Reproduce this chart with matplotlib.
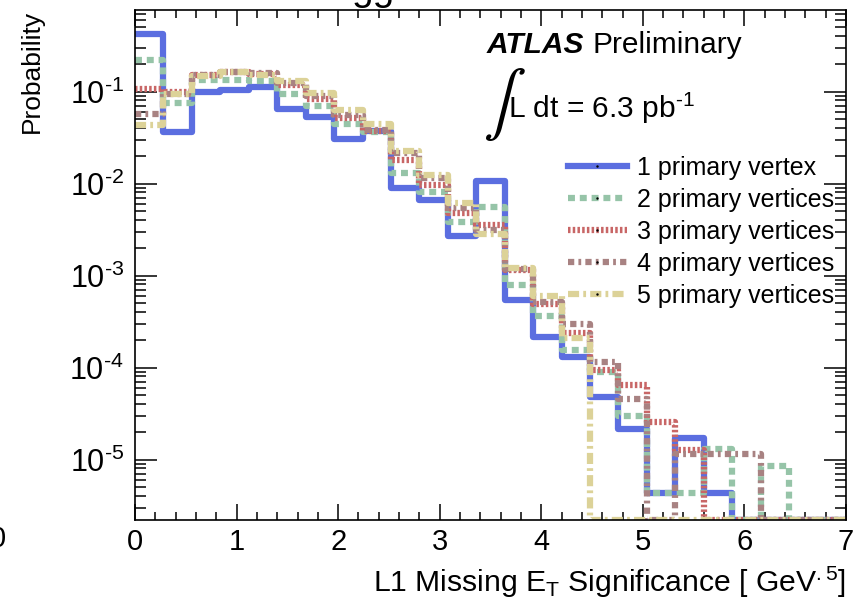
import numpy as np
import matplotlib
matplotlib.use('Agg')
import matplotlib.pyplot as plt
from matplotlib.lines import Line2D
from matplotlib.ticker import (LogLocator, MultipleLocator, NullFormatter,
                               FixedLocator, FuncFormatter)

plt.rcParams['font.family'] = ['Liberation Sans', 'DejaVu Sans']
plt.rcParams['mathtext.fontset'] = 'custom'
plt.rcParams['mathtext.rm'] = 'Liberation Sans'
plt.rcParams['mathtext.it'] = 'Liberation Sans:italic'
plt.rcParams['mathtext.bf'] = 'Liberation Sans:bold'
plt.rcParams['lines.scale_dashes'] = False

# 25 bins of L1 MET significance, 0..7
edges = np.linspace(0, 7, 26)

pv1 = [0.42, 0.036, 0.098, 0.103, 0.111, 0.065, 0.053, 0.0305, 0.037, 0.0089,
       0.0067, 0.0027, 0.0106, 5.4e-4, 2.16e-4, 1.3e-4, 4.8e-5, 2.17e-5, 4.3e-6,
       1.72e-5, 4.3e-6, 0, 0, 0, 0]
pv2 = [0.223, 0.075, 0.135, 0.135, 0.13, 0.093, 0.069, 0.044, 0.036, 0.013,
       0.008, 0.0038, 0.0056, 7.9e-4, 3.66e-4, 1.55e-4, 9.0e-5, 3.0e-5, 4.3e-6,
       4.3e-6, 1.29e-5, 0, 8.6e-6, 0, 0]
pv3 = [0.107, 0.098, 0.153, 0.162, 0.156, 0.119, 0.082, 0.051, 0.037, 0.0182,
       0.0097, 0.0048, 0.0035, 1.15e-3, 4.9e-4, 2.4e-4, 9.4e-5, 6.4e-5, 2.56e-5,
       1.26e-5, 0, 0, 0, 0, 0]
pv4 = [0.0576, 0.095, 0.15, 0.163, 0.158, 0.124, 0.09, 0.056, 0.038, 0.0215,
       0.0115, 0.0054, 0.0031, 1.17e-3, 5.2e-4, 3.0e-4, 1.15e-4, 4.6e-5, 0,
       1.16e-5, 1.16e-5, 1.16e-5, 0, 0, 0]
pv5 = [0.0437, 0.093, 0.147, 0.164, 0.153, 0.13, 0.097, 0.0636, 0.044, 0.0224,
       0.0125, 0.0061, 0.0028, 1.2e-3, 6.0e-4, 2.1e-4, 0, 0, 0, 0, 0, 0, 0, 0, 0]

labels = ['1 primary vertex', '2 primary vertices', '3 primary vertices',
          '4 primary vertices', '5 primary vertices']
colors = ['#5b6ee0', '#96c4a8', '#c86666', '#a88282', '#dcd298']
dashes = [None, (5, 3.5), (1.8, 1.6), (4.5, 3, 2, 3), (8, 3, 2, 3)]

ymin, ymax = 2.2e-6, 0.77

fig = plt.figure(figsize=(8.63, 6.11), dpi=100)
ax = fig.add_axes([135 / 863, 1 - 520 / 611, 711 / 863, 510 / 611])

handles = []
for vals, col, dsh, lab in zip([pv1, pv2, pv3, pv4, pv5], colors, dashes, labels):
    v = np.array(vals, dtype=float)
    v = np.where(v > 0, v, ymin)  # empty bins sit on the frame
    y = np.append(v, v[-1])
    ln, = ax.step(edges, y, where='post', color=col, lw=4.5,
                  solid_capstyle='butt', dash_capstyle='butt')
    if dsh is not None:
        ln.set_dashes(dsh)
    h = Line2D([], [], color=col, lw=4.5, dash_capstyle='butt',
               marker='.', markersize=1.5, markerfacecolor='k', markeredgecolor='k')
    if dsh is not None:
        h.set_dashes(dsh)
    handles.append(h)

ax.set_yscale('log')
ax.set_xlim(0, 7)
ax.set_ylim(ymin, ymax)


def pow10(val, pos):
    e = int(round(np.log10(val)))
    return r'$\mathregular{10^{\text{-}%d}}$' % (-e)


ax.xaxis.set_major_locator(MultipleLocator(1))
ax.xaxis.set_minor_locator(MultipleLocator(0.2))
ax.yaxis.set_major_locator(FixedLocator([1e-5, 1e-4, 1e-3, 1e-2, 1e-1]))
ax.yaxis.set_major_formatter(FuncFormatter(pow10))
ax.yaxis.set_minor_locator(LogLocator(base=10, subs=np.arange(2, 10), numticks=20))
ax.yaxis.set_minor_formatter(NullFormatter())

ax.tick_params(which='both', direction='in', top=True, right=True, width=1.1,
               labelsize=21)
ax.tick_params(axis='x', which='major', length=11.5, pad=6)
ax.tick_params(axis='x', which='minor', length=5.8)
ax.tick_params(axis='y', which='major', length=16, pad=8, labelsize=22)
ax.tick_params(axis='y', which='minor', length=8)
for sp in ax.spines.values():
    sp.set_linewidth(1.2)

ax.set_ylabel('Probability', loc='top', fontsize=19, labelpad=18)
ax.set_xlabel(r'L1 Missing E$_{\mathregular{T}}$ Significance [ GeV$^{\mathregular{.5}}$]',
              loc='right', fontsize=21.7, labelpad=6)

leg = ax.legend(handles, labels, loc='upper left', bbox_to_anchor=(0.609, 0.714),
                frameon=False, fontsize=18, handlelength=2.36, handletextpad=0.4,
                labelspacing=0.32, borderaxespad=0, borderpad=0)

fig.text(487 / 863, 1 - 53 / 611, 'ATLAS', fontsize=21.5, weight='bold',
         style='italic', va='baseline')
fig.text(592 / 863, 1 - 53 / 611, 'Preliminary', fontsize=21.5, va='baseline')
fig.text(483 / 863, 1 - 121 / 611, r'$\int$', fontsize=46, va='baseline',
         math_fontfamily='stix')
fig.text(508 / 863, 1 - 118 / 611, r'L dt = 6.3 pb$^{\mathregular{\text{-}1}}$',
         fontsize=21.5, va='baseline')

# bits of the neighbouring panels
fig.text(373 / 863, 1 + 0.5 / 611, 'gg', fontsize=28, ha='center', va='baseline')
fig.text(-2 / 863, 1 - 539 / 611, '0', fontsize=21, ha='center', va='center')

fig.savefig('out.png', dpi=100)
